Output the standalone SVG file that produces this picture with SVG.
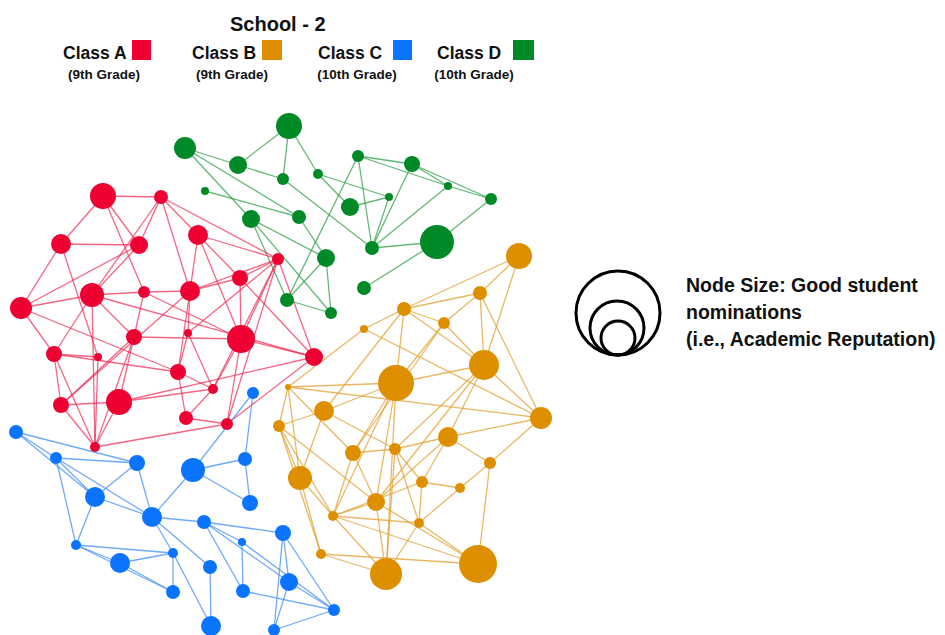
<svg xmlns="http://www.w3.org/2000/svg" width="945" height="635" viewBox="0 0 945 635">
<style>
text{font-family:"Liberation Sans",Arial,sans-serif;font-weight:bold;fill:#111}
.t{font-size:20px}
.c{font-size:17.5px}
.s{font-size:13.5px}
.n{font-size:19.5px}
.eg line{stroke:#1f9a3a;stroke-width:1.3;stroke-opacity:.7}
.er line{stroke:#f0254f;stroke-width:1.3;stroke-opacity:.7}
.eo line{stroke:#e0a030;stroke-width:1.3;stroke-opacity:.75}
.eb line{stroke:#3f8ef5;stroke-width:1.3;stroke-opacity:.75}
.G{fill:#008a27}.R{fill:#ee0033}.O{fill:#dd8f00}.B{fill:#0a74ff}
.lg{fill:none;stroke:#000;stroke-width:3}
</style>
<rect width="945" height="635" fill="#fff"/>
<g id="legend">
<text class="t" x="230" y="31">School  - 2</text>
<text class="c" x="63" y="59">Class A</text><rect class="R" x="132" y="40" width="19" height="20"/>
<text class="c" x="192" y="59">Class B</text><rect class="O" x="262" y="40" width="20" height="20"/>
<text class="c" x="318" y="59">Class C</text><rect class="B" x="393" y="40" width="19" height="20"/>
<text class="c" x="437" y="59">Class D</text><rect class="G" x="513" y="40" width="21" height="20"/>
<text class="s" x="104" y="79" text-anchor="middle">(9th Grade)</text>
<text class="s" x="232" y="79" text-anchor="middle">(9th Grade)</text>
<text class="s" x="357" y="79" text-anchor="middle">(10th Grade)</text>
<text class="s" x="474" y="79" text-anchor="middle">(10th Grade)</text>
</g>
<g id="size-legend">
<circle class="lg" cx="618" cy="313" r="42"/>
<circle class="lg" cx="617" cy="328" r="27"/>
<circle class="lg" cx="618" cy="338" r="17"/>
<text class="n" x="686" y="292">Node Size: Good student</text>
<text class="n" x="686" y="319">nominations</text>
<text class="n" x="686" y="346">(i.e., Academic Reputation)</text>
</g>
<g id="connectors">
<g class="eg">
<line x1="289" y1="126" x2="238" y2="165"/><line x1="289" y1="126" x2="283" y2="179"/><line x1="289" y1="126" x2="318" y2="174"/>
<line x1="185" y1="148" x2="238" y2="165"/><line x1="185" y1="148" x2="251" y2="219"/><line x1="185" y1="148" x2="299" y2="217"/>
<line x1="238" y1="165" x2="283" y2="179"/><line x1="283" y1="179" x2="372" y2="248"/><line x1="318" y1="174" x2="389" y2="197"/>
<line x1="318" y1="174" x2="350" y2="207"/><line x1="205" y1="191" x2="299" y2="217"/><line x1="251" y1="219" x2="326" y2="258"/>
<line x1="251" y1="219" x2="287" y2="300"/><line x1="251" y1="219" x2="331" y2="313"/><line x1="299" y1="217" x2="326" y2="258"/>
<line x1="326" y1="258" x2="287" y2="300"/><line x1="326" y1="258" x2="331" y2="313"/><line x1="287" y1="300" x2="331" y2="313"/>
<line x1="287" y1="300" x2="358" y2="156"/><line x1="358" y1="156" x2="412" y2="164"/><line x1="358" y1="156" x2="448" y2="186"/>
<line x1="358" y1="156" x2="372" y2="248"/><line x1="412" y1="164" x2="448" y2="186"/><line x1="412" y1="164" x2="491" y2="199"/>
<line x1="412" y1="164" x2="372" y2="248"/><line x1="448" y1="186" x2="491" y2="199"/><line x1="448" y1="186" x2="372" y2="248"/>
<line x1="491" y1="199" x2="437" y2="242"/><line x1="389" y1="197" x2="350" y2="207"/><line x1="389" y1="197" x2="372" y2="248"/>
<line x1="372" y1="248" x2="437" y2="242"/><line x1="437" y1="242" x2="364" y2="288"/>
</g>
<g class="er">
<line x1="103" y1="196" x2="161" y2="197"/><line x1="103" y1="196" x2="61" y2="244"/><line x1="103" y1="196" x2="139" y2="245"/>
<line x1="103" y1="196" x2="144" y2="292"/><line x1="161" y1="197" x2="139" y2="245"/><line x1="161" y1="197" x2="92" y2="295"/>
<line x1="161" y1="197" x2="198" y2="235"/><line x1="161" y1="197" x2="278" y2="259"/><line x1="161" y1="197" x2="190" y2="291"/>
<line x1="61" y1="244" x2="139" y2="245"/><line x1="61" y1="244" x2="21" y2="308"/><line x1="61" y1="244" x2="98" y2="357"/>
<line x1="139" y1="245" x2="92" y2="295"/><line x1="139" y1="245" x2="21" y2="308"/><line x1="92" y1="295" x2="144" y2="292"/>
<line x1="92" y1="295" x2="21" y2="308"/><line x1="92" y1="295" x2="54" y2="354"/><line x1="92" y1="295" x2="95" y2="447"/>
<line x1="92" y1="295" x2="134" y2="337"/><line x1="92" y1="295" x2="314" y2="357"/><line x1="144" y1="292" x2="190" y2="291"/>
<line x1="144" y1="292" x2="241" y2="339"/><line x1="144" y1="292" x2="134" y2="337"/><line x1="21" y1="308" x2="54" y2="354"/>
<line x1="21" y1="308" x2="178" y2="372"/><line x1="198" y1="235" x2="278" y2="259"/><line x1="198" y1="235" x2="240" y2="278"/>
<line x1="198" y1="235" x2="190" y2="291"/><line x1="198" y1="235" x2="241" y2="339"/><line x1="278" y1="259" x2="240" y2="278"/>
<line x1="278" y1="259" x2="190" y2="291"/><line x1="278" y1="259" x2="241" y2="339"/><line x1="278" y1="259" x2="213" y2="389"/>
<line x1="278" y1="259" x2="227" y2="424"/><line x1="278" y1="259" x2="188" y2="333"/><line x1="278" y1="259" x2="314" y2="357"/>
<line x1="240" y1="278" x2="190" y2="291"/><line x1="240" y1="278" x2="241" y2="339"/><line x1="240" y1="278" x2="314" y2="357"/>
<line x1="190" y1="291" x2="188" y2="333"/><line x1="190" y1="291" x2="178" y2="372"/><line x1="190" y1="291" x2="61" y2="405"/>
<line x1="54" y1="354" x2="98" y2="357"/><line x1="54" y1="354" x2="61" y2="405"/><line x1="54" y1="354" x2="95" y2="447"/>
<line x1="54" y1="354" x2="178" y2="372"/><line x1="98" y1="357" x2="95" y2="447"/><line x1="134" y1="337" x2="61" y2="405"/>
<line x1="134" y1="337" x2="119" y2="402"/><line x1="134" y1="337" x2="241" y2="339"/><line x1="61" y1="405" x2="119" y2="402"/>
<line x1="61" y1="405" x2="95" y2="447"/><line x1="119" y1="402" x2="95" y2="447"/><line x1="119" y1="402" x2="314" y2="357"/>
<line x1="119" y1="402" x2="213" y2="389"/><line x1="95" y1="447" x2="227" y2="424"/><line x1="95" y1="447" x2="134" y2="337"/>
<line x1="188" y1="333" x2="213" y2="389"/><line x1="188" y1="333" x2="178" y2="372"/><line x1="241" y1="339" x2="314" y2="357"/>
<line x1="241" y1="339" x2="227" y2="424"/><line x1="241" y1="339" x2="213" y2="389"/><line x1="314" y1="357" x2="227" y2="424"/>
<line x1="178" y1="372" x2="213" y2="389"/><line x1="178" y1="372" x2="186" y2="418"/><line x1="213" y1="389" x2="186" y2="418"/>
<line x1="186" y1="418" x2="227" y2="424"/>
</g>
<g class="eo">
<line x1="519" y1="256" x2="480" y2="293"/><line x1="519" y1="256" x2="404" y2="309"/><line x1="519" y1="256" x2="484" y2="365"/>
<line x1="480" y1="293" x2="404" y2="309"/><line x1="480" y1="293" x2="444" y2="323"/><line x1="480" y1="293" x2="484" y2="365"/>
<line x1="480" y1="293" x2="541" y2="418"/><line x1="404" y1="309" x2="444" y2="323"/><line x1="404" y1="309" x2="364" y2="329"/>
<line x1="404" y1="309" x2="484" y2="365"/><line x1="404" y1="309" x2="396" y2="383"/><line x1="404" y1="309" x2="324" y2="411"/>
<line x1="444" y1="323" x2="396" y2="383"/><line x1="444" y1="323" x2="484" y2="365"/><line x1="444" y1="323" x2="353" y2="453"/>
<line x1="364" y1="329" x2="288" y2="387"/><line x1="364" y1="329" x2="541" y2="418"/><line x1="484" y1="365" x2="396" y2="383"/>
<line x1="484" y1="365" x2="541" y2="418"/><line x1="484" y1="365" x2="395" y2="449"/><line x1="484" y1="365" x2="448" y2="437"/>
<line x1="484" y1="365" x2="376" y2="502"/><line x1="396" y1="383" x2="288" y2="387"/><line x1="396" y1="383" x2="324" y2="411"/>
<line x1="396" y1="383" x2="353" y2="453"/><line x1="396" y1="383" x2="376" y2="502"/><line x1="396" y1="383" x2="333" y2="516"/>
<line x1="396" y1="383" x2="386" y2="574"/><line x1="288" y1="387" x2="279" y2="426"/><line x1="288" y1="387" x2="300" y2="478"/>
<line x1="288" y1="387" x2="541" y2="418"/><line x1="288" y1="387" x2="353" y2="453"/><line x1="324" y1="411" x2="279" y2="426"/>
<line x1="324" y1="411" x2="300" y2="478"/><line x1="324" y1="411" x2="395" y2="449"/><line x1="541" y1="418" x2="490" y2="463"/>
<line x1="541" y1="418" x2="448" y2="437"/><line x1="279" y1="426" x2="300" y2="478"/><line x1="279" y1="426" x2="333" y2="516"/>
<line x1="279" y1="426" x2="321" y2="554"/><line x1="279" y1="426" x2="376" y2="502"/><line x1="448" y1="437" x2="490" y2="463"/>
<line x1="448" y1="437" x2="376" y2="502"/><line x1="448" y1="437" x2="422" y2="482"/><line x1="448" y1="437" x2="395" y2="449"/>
<line x1="353" y1="453" x2="395" y2="449"/><line x1="353" y1="453" x2="376" y2="502"/><line x1="353" y1="453" x2="333" y2="516"/>
<line x1="395" y1="449" x2="422" y2="482"/><line x1="395" y1="449" x2="419" y2="523"/><line x1="395" y1="449" x2="386" y2="574"/>
<line x1="490" y1="463" x2="460" y2="488"/><line x1="490" y1="463" x2="478" y2="564"/><line x1="300" y1="478" x2="333" y2="516"/>
<line x1="300" y1="478" x2="321" y2="554"/><line x1="422" y1="482" x2="460" y2="488"/><line x1="422" y1="482" x2="333" y2="516"/>
<line x1="422" y1="482" x2="419" y2="523"/><line x1="460" y1="488" x2="419" y2="523"/><line x1="376" y1="502" x2="333" y2="516"/>
<line x1="376" y1="502" x2="386" y2="574"/><line x1="376" y1="502" x2="478" y2="564"/><line x1="333" y1="516" x2="419" y2="523"/>
<line x1="333" y1="516" x2="478" y2="564"/><line x1="333" y1="516" x2="386" y2="574"/><line x1="419" y1="523" x2="478" y2="564"/>
<line x1="419" y1="523" x2="386" y2="574"/><line x1="321" y1="554" x2="386" y2="574"/><line x1="321" y1="554" x2="478" y2="564"/>
</g>
<g class="eb">
<line x1="16" y1="432" x2="56" y2="458"/><line x1="16" y1="432" x2="137" y2="463"/><line x1="16" y1="432" x2="95" y2="497"/>
<line x1="56" y1="458" x2="137" y2="463"/><line x1="56" y1="458" x2="95" y2="497"/><line x1="56" y1="458" x2="152" y2="517"/>
<line x1="56" y1="458" x2="76" y2="545"/><line x1="137" y1="463" x2="95" y2="497"/><line x1="137" y1="463" x2="152" y2="517"/>
<line x1="95" y1="497" x2="152" y2="517"/><line x1="95" y1="497" x2="76" y2="545"/><line x1="152" y1="517" x2="173" y2="553"/>
<line x1="152" y1="517" x2="193" y2="470"/><line x1="152" y1="517" x2="204" y2="522"/><line x1="152" y1="517" x2="210" y2="567"/>
<line x1="76" y1="545" x2="120" y2="563"/><line x1="76" y1="545" x2="173" y2="553"/><line x1="76" y1="545" x2="173" y2="592"/>
<line x1="120" y1="563" x2="173" y2="553"/><line x1="120" y1="563" x2="173" y2="592"/><line x1="173" y1="553" x2="173" y2="592"/>
<line x1="173" y1="553" x2="211" y2="626"/><line x1="253" y1="393" x2="193" y2="470"/><line x1="253" y1="393" x2="245" y2="459"/>
<line x1="193" y1="470" x2="245" y2="459"/><line x1="193" y1="470" x2="250" y2="503"/><line x1="245" y1="459" x2="250" y2="503"/>
<line x1="204" y1="522" x2="283" y2="533"/><line x1="204" y1="522" x2="242" y2="542"/><line x1="204" y1="522" x2="243" y2="591"/>
<line x1="204" y1="522" x2="289" y2="582"/><line x1="242" y1="542" x2="243" y2="591"/><line x1="242" y1="542" x2="334" y2="610"/>
<line x1="283" y1="533" x2="289" y2="582"/><line x1="283" y1="533" x2="334" y2="610"/><line x1="283" y1="533" x2="274" y2="630"/>
<line x1="210" y1="567" x2="211" y2="626"/><line x1="243" y1="591" x2="334" y2="610"/><line x1="289" y1="582" x2="334" y2="610"/>
<line x1="289" y1="582" x2="274" y2="630"/><line x1="334" y1="610" x2="274" y2="630"/>
</g>
</g>
<g id="g1"><circle class="G" cx="289" cy="126" r="13"/></g>
<g id="g2"><circle class="G" cx="185" cy="148" r="11"/></g>
<g id="g3"><circle class="G" cx="238" cy="165" r="9"/></g>
<g id="g4"><circle class="G" cx="283" cy="179" r="6"/></g>
<g id="g5"><circle class="G" cx="318" cy="174" r="5"/></g>
<g id="g6"><circle class="G" cx="205" cy="191" r="4"/></g>
<g id="g7"><circle class="G" cx="251" cy="219" r="9"/></g>
<g id="g8"><circle class="G" cx="299" cy="217" r="7"/></g>
<g id="g9"><circle class="G" cx="326" cy="258" r="9"/></g>
<g id="g10"><circle class="G" cx="287" cy="300" r="7"/></g>
<g id="g11"><circle class="G" cx="331" cy="313" r="6"/></g>
<g id="g12"><circle class="G" cx="358" cy="156" r="6"/></g>
<g id="g13"><circle class="G" cx="412" cy="164" r="8"/></g>
<g id="g14"><circle class="G" cx="448" cy="186" r="4"/></g>
<g id="g15"><circle class="G" cx="491" cy="199" r="6"/></g>
<g id="g16"><circle class="G" cx="389" cy="197" r="4"/></g>
<g id="g17"><circle class="G" cx="350" cy="207" r="9"/></g>
<g id="g18"><circle class="G" cx="372" cy="248" r="7"/></g>
<g id="g19"><circle class="G" cx="437" cy="242" r="17"/></g>
<g id="g20"><circle class="G" cx="364" cy="288" r="7"/></g>
<g id="r1"><circle class="R" cx="103" cy="196" r="13"/></g>
<g id="r2"><circle class="R" cx="161" cy="197" r="7"/></g>
<g id="r3"><circle class="R" cx="61" cy="244" r="10"/></g>
<g id="r4"><circle class="R" cx="139" cy="245" r="9"/></g>
<g id="r5"><circle class="R" cx="92" cy="295" r="12"/></g>
<g id="r6"><circle class="R" cx="144" cy="292" r="6"/></g>
<g id="r7"><circle class="R" cx="21" cy="308" r="11"/></g>
<g id="r8"><circle class="R" cx="198" cy="235" r="10"/></g>
<g id="r10"><circle class="R" cx="278" cy="259" r="6"/></g>
<g id="r11"><circle class="R" cx="240" cy="278" r="8"/></g>
<g id="r12"><circle class="R" cx="190" cy="291" r="10"/></g>
<g id="r13"><circle class="R" cx="54" cy="354" r="8"/></g>
<g id="r14"><circle class="R" cx="98" cy="357" r="4"/></g>
<g id="r15"><circle class="R" cx="134" cy="337" r="8"/></g>
<g id="r16"><circle class="R" cx="61" cy="405" r="8"/></g>
<g id="r17"><circle class="R" cx="119" cy="402" r="13"/></g>
<g id="r18"><circle class="R" cx="95" cy="447" r="5"/></g>
<g id="r19"><circle class="R" cx="188" cy="333" r="4"/></g>
<g id="r20"><circle class="R" cx="241" cy="339" r="14"/></g>
<g id="r21"><circle class="R" cx="314" cy="357" r="9"/></g>
<g id="r22"><circle class="R" cx="178" cy="372" r="8"/></g>
<g id="r23"><circle class="R" cx="213" cy="389" r="5"/></g>
<g id="r24"><circle class="R" cx="186" cy="418" r="7"/></g>
<g id="r25"><circle class="R" cx="227" cy="424" r="6"/></g>
<g id="o1"><circle class="O" cx="519" cy="256" r="13"/></g>
<g id="o2"><circle class="O" cx="480" cy="293" r="7"/></g>
<g id="o3"><circle class="O" cx="404" cy="309" r="7"/></g>
<g id="o4"><circle class="O" cx="444" cy="323" r="6"/></g>
<g id="o5"><circle class="O" cx="364" cy="329" r="4"/></g>
<g id="o6"><circle class="O" cx="484" cy="365" r="15"/></g>
<g id="o7"><circle class="O" cx="396" cy="383" r="18"/></g>
<g id="o8"><circle class="O" cx="288" cy="387" r="3"/></g>
<g id="o9"><circle class="O" cx="324" cy="411" r="10"/></g>
<g id="o10"><circle class="O" cx="541" cy="418" r="11"/></g>
<g id="o11"><circle class="O" cx="279" cy="426" r="6"/></g>
<g id="o12"><circle class="O" cx="448" cy="437" r="10"/></g>
<g id="o13"><circle class="O" cx="353" cy="453" r="8"/></g>
<g id="o14"><circle class="O" cx="395" cy="449" r="6"/></g>
<g id="o15"><circle class="O" cx="490" cy="463" r="6"/></g>
<g id="o16"><circle class="O" cx="300" cy="478" r="12"/></g>
<g id="o17"><circle class="O" cx="422" cy="482" r="6"/></g>
<g id="o18"><circle class="O" cx="460" cy="488" r="5"/></g>
<g id="o19"><circle class="O" cx="376" cy="502" r="9"/></g>
<g id="o20"><circle class="O" cx="333" cy="516" r="5"/></g>
<g id="o21"><circle class="O" cx="419" cy="523" r="5"/></g>
<g id="o22"><circle class="O" cx="321" cy="554" r="5"/></g>
<g id="o23"><circle class="O" cx="386" cy="574" r="16"/></g>
<g id="o24"><circle class="O" cx="478" cy="564" r="19"/></g>
<g id="b1"><circle class="B" cx="16" cy="432" r="7"/></g>
<g id="b2"><circle class="B" cx="56" cy="458" r="6"/></g>
<g id="b3"><circle class="B" cx="137" cy="463" r="8"/></g>
<g id="b4"><circle class="B" cx="95" cy="497" r="10"/></g>
<g id="b5"><circle class="B" cx="152" cy="517" r="10"/></g>
<g id="b6"><circle class="B" cx="76" cy="545" r="5"/></g>
<g id="b7"><circle class="B" cx="120" cy="563" r="10"/></g>
<g id="b8"><circle class="B" cx="173" cy="553" r="5"/></g>
<g id="b9"><circle class="B" cx="173" cy="592" r="7"/></g>
<g id="b10"><circle class="B" cx="253" cy="393" r="6"/></g>
<g id="b11"><circle class="B" cx="193" cy="470" r="12"/></g>
<g id="b12"><circle class="B" cx="245" cy="459" r="7"/></g>
<g id="b13"><circle class="B" cx="250" cy="503" r="8"/></g>
<g id="b14"><circle class="B" cx="204" cy="522" r="7"/></g>
<g id="b15"><circle class="B" cx="242" cy="542" r="4"/></g>
<g id="b16"><circle class="B" cx="283" cy="533" r="8"/></g>
<g id="b17"><circle class="B" cx="210" cy="567" r="7"/></g>
<g id="b18"><circle class="B" cx="243" cy="591" r="7"/></g>
<g id="b19"><circle class="B" cx="289" cy="582" r="9"/></g>
<g id="b20"><circle class="B" cx="334" cy="610" r="6"/></g>
<g id="b21"><circle class="B" cx="211" cy="626" r="10"/></g>
<g id="b22"><circle class="B" cx="274" cy="630" r="6"/></g>
</svg>
